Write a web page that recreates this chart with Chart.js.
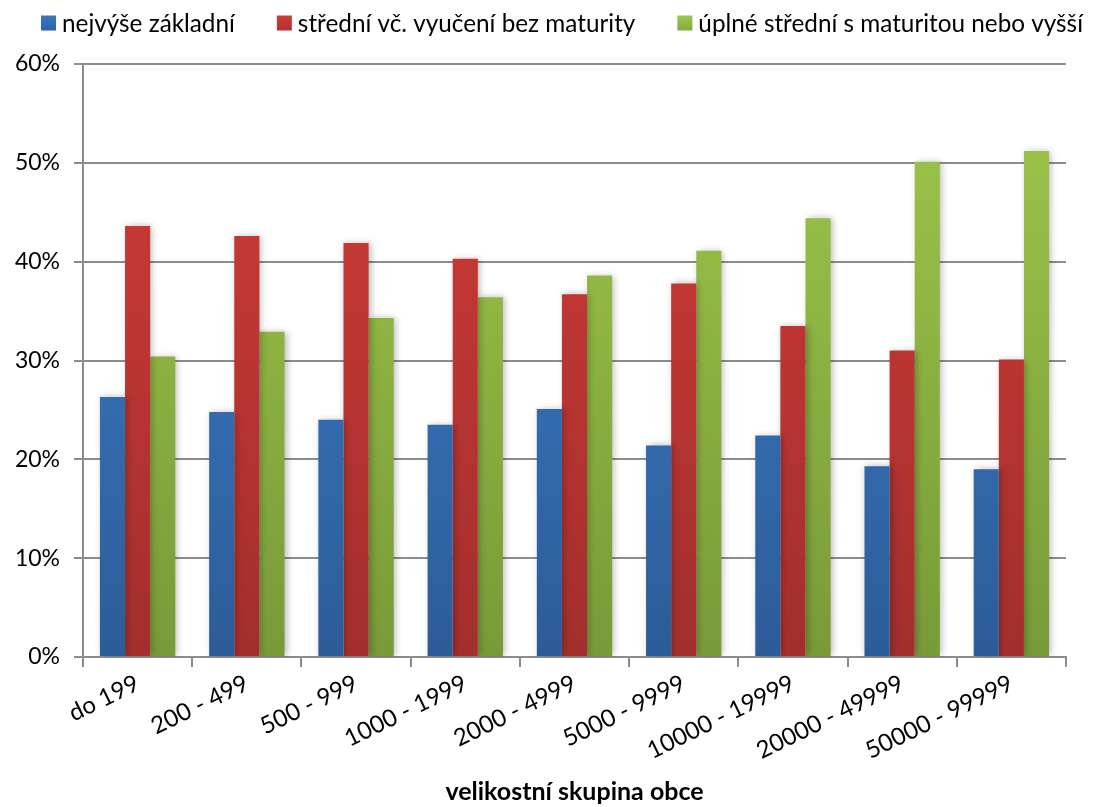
<!DOCTYPE html>
<html>
<head>
<meta charset="utf-8">
<script src="https://cdn.jsdelivr.net/npm/chart.js@4/dist/chart.umd.min.js"></script>
<style>
html,body{margin:0;padding:0;background:#fff;}
#wrap{width:1096px;height:807px;position:relative;}
</style>
</head>
<body>
<div id="wrap"><canvas id="c" width="1096" height="807"></canvas></div>
<script>
const categories = ["do 199","200 - 499","500 - 999","1000 - 1999","2000 - 4999","5000 - 9999","10000 - 19999","20000 - 49999","50000 - 99999"];
const seriesNames = ["nejvýše základní","střední vč. vyučení bez maturity","úplné střední s maturitou nebo vyšší"];
const basic = [26.3, 24.8, 24.0, 23.5, 25.1, 21.4, 22.4, 19.3, 19.0];
const vocational = [43.6, 42.6, 41.9, 40.3, 36.7, 37.8, 33.5, 31.0, 30.1];
const secondary = [30.4, 32.9, 34.3, 36.4, 38.6, 41.1, 44.4, 50.1, 51.2];
const yTicks = [0, 10, 20, 30, 40, 50, 60];
const axisTitle = "velikostní skupina obce";

const palette = [
  {top:'#3E80CE', bottom:'#2C5C98', legend:'#3A78C4', legend2:'#2D62A6'},
  {top:'#D23B37', bottom:'#A22F2D', legend:'#D03C38', legend2:'#B0322F'},
  {top:'#9FC84A', bottom:'#789A38', legend:'#9DC64A', legend2:'#85A93E'}
];
function grad(i){
  return function(ctx){
    const ch = ctx.chart; const a = ch.chartArea;
    if(!a) return palette[i].top;
    const g = ch.ctx.createLinearGradient(0, a.top, 0, a.bottom);
    g.addColorStop(0, palette[i].top);
    g.addColorStop(1, palette[i].bottom);
    return g;
  };
}
const FONT = 'Lato, "Open Sans", sans-serif';

const shadowPlugin = {
  id:'barShadow',
  beforeDatasetsDraw(chart){
    const c = chart.ctx; c.save();
    c.shadowColor='rgba(0,0,0,0.28)'; c.shadowBlur=7; c.shadowOffsetX=2; c.shadowOffsetY=0;
  },
  afterDatasetsDraw(chart){ chart.ctx.restore(); }
};

// Custom legend drawn on the canvas (real text)
const customLegend = {
  id:'customLegend',
  afterDraw(chart){
    const c = chart.ctx;
    const box = 15, gapText = 6, gapItem = 42, cy = 23;
    c.save();
    c.font = '24.3px ' + FONT;
    c.textBaseline = 'middle';
    const widths = chart.data.datasets.map(d => c.measureText(d.label).width);
    const total = widths.reduce((s,w)=>s+box+gapText+w,0) + gapItem*(widths.length-1);
    let x = 562 - total/2;
    chart.data.datasets.forEach((d,i)=>{
      const g = c.createLinearGradient(0, cy-box/2, 0, cy+box/2);
      g.addColorStop(0, palette[i].legend); g.addColorStop(1, palette[i].legend2);
      c.fillStyle = g;
      c.fillRect(x, cy-box/2, box, box);
      x += box + gapText;
      c.fillStyle = '#000';
      c.fillText(d.label, x, cy+1);
      x += widths[i] + gapItem;
    });
    c.restore();
  }
};

new Chart(document.getElementById('c'), {
  type:'bar',
  data:{
    labels: categories,
    datasets:[
      {label:seriesNames[0], data:basic, backgroundColor:grad(0)},
      {label:seriesNames[1], data:vocational, backgroundColor:grad(1)},
      {label:seriesNames[2], data:secondary, backgroundColor:grad(2)}
    ]
  },
  options:{
    responsive:false, animation:false,
    devicePixelRatio:1,
    layout:{padding:{left:0,right:30,top:64,bottom:0}},
    datasets:{bar:{categoryPercentage:0.69, barPercentage:1.0}},
    plugins:{
      legend:{display:false},
      tooltip:{enabled:false}
    },
    scales:{
      x:{
        offset:true,
        grid:{offset:true, drawOnChartArea:false, drawTicks:true, tickLength:10, color:'#8c8c8c', lineWidth:2},
        border:{display:true, color:'#8c8c8c', width:2},
        ticks:{color:'#000', font:{family:FONT, size:24}, minRotation:26, maxRotation:26, padding:2, autoSkip:false},
        title:{display:true, text:axisTitle, color:'#000', font:{family:FONT, size:25, weight:'bold'}, padding:{top:4,bottom:0}},
        afterFit(s){ s.height = 150; }
      },
      y:{
        min:0, max:60,
        afterBuildTicks(s){ s.ticks = yTicks.map(v=>({value:v})); },
        grid:{color:'#8c8c8c', lineWidth:2, tickLength:9},
        border:{display:true, color:'#8c8c8c', width:2},
        ticks:{color:'#000', font:{family:FONT, size:23}, padding:14, callback:v=>v+'%'},
        afterFit(s){ s.width = 83; }
      }
    }
  },
  plugins:[shadowPlugin, customLegend]
});
</script>
</body>
</html>
